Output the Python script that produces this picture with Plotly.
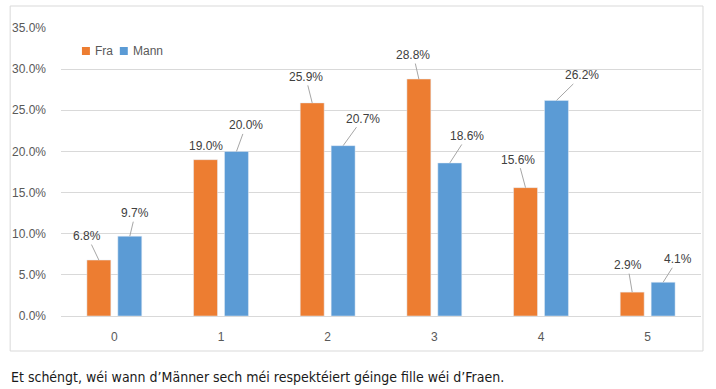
import plotly.graph_objects as go

categories = ["0", "1", "2", "3", "4", "5"]
fra = [6.8, 19.0, 25.9, 28.8, 15.6, 2.9]
mann = [9.7, 20.0, 20.7, 18.6, 26.2, 4.1]
fra_labels = ["6.8%", "19.0%", "25.9%", "28.8%", "15.6%", "2.9%"]
mann_labels = ["9.7%", "20.0%", "20.7%", "18.6%", "26.2%", "4.1%"]
y_ticks = [0, 5, 10, 15, 20, 25, 30, 35]
y_tick_text = ["0.0%", "5.0%", "10.0%", "15.0%", "20.0%", "25.0%", "30.0%", "35.0%"]
caption = "Et schéngt, wéi wann d\u2019Männer sech méi respektéiert géinge fille wéi d\u2019Fraen."

# label offsets (pixels) relative to bar tops
fra_off = [(-11.5, -24), (0.5, -14), (-6.5, -26), (-5.5, -24), (-7.5, -28), (-4.5, -27)]
mann_off = [(5.5, -23), (9.5, -26), (19.5, -27), (17.5, -27), (25.5, -25), (14.5, -23)]
fra_arrow = [True, False, True, True, True, True]
mann_arrow = [True, True, True, True, True, True]

ORANGE = "#ED7D31"
BLUE = "#5B9BD5"
GRID = "#d9d9d9"
TXT = "#404040"

W, H = 716, 389
L, R, T, B = 59, 15, 28, 73
PW, PH = W - L - R, H - T - B
BARGAP = 0.42


def px(x):
    return (x - L) / PW


def py(y):
    return (H - B - y) / PH


fig = go.Figure()
fig.add_trace(go.Bar(x=list(range(len(categories))), y=fra, name="Fra",
                     marker_color=ORANGE, showlegend=False))
fig.add_trace(go.Bar(x=list(range(len(categories))), y=mann, name="Mann",
                     marker_color=BLUE, showlegend=False))

off = (1 - BARGAP) / 4
ann = []
for i in range(len(categories)):
    for vals, labs, offs, arrows, sgn in ((fra, fra_labels, fra_off, fra_arrow, -1),
                                          (mann, mann_labels, mann_off, mann_arrow, 1)):
        ax, ay = offs[i]
        common = dict(x=i + sgn * off, y=vals[i], xref="x", yref="y", text=labs[i],
                      font=dict(family="Liberation Sans, Arial, sans-serif", size=12, color=TXT))
        if arrows[i]:
            ann.append(dict(**common, showarrow=True, ax=ax, ay=ay, arrowhead=0,
                            arrowwidth=1, arrowcolor="#a6a6a6", standoff=0))
        else:
            ann.append(dict(**common, showarrow=False, xshift=ax, yshift=-ay))

# custom legend
shapes = []
legend_items = [("Fra", ORANGE, 80), ("Mann", BLUE, 118)]
for name, col, x0 in legend_items:
    shapes.append(dict(type="rect", xref="paper", yref="paper",
                       x0=px(x0), x1=px(x0 + 8), y0=py(55), y1=py(47),
                       fillcolor=col, line=dict(width=0)))
    ann.append(dict(x=px(x0 + 11), y=py(51), xref="paper", yref="paper", text=name,
                    showarrow=False, xanchor="left", yanchor="middle",
                    font=dict(family="Liberation Sans, Arial, sans-serif", size=12, color="#595959")))

# border
shapes.append(dict(type="rect", xref="paper", yref="paper",
                   x0=px(8), x1=px(703), y0=py(351), y1=py(6),
                   line=dict(color=GRID, width=1), fillcolor="rgba(0,0,0,0)"))

ann.append(dict(x=px(7), y=py(377), xref="paper", yref="paper", text=caption,
                showarrow=False, xanchor="left", yanchor="middle",
                font=dict(family="Liberation Sans Narrow, DejaVu Sans Condensed, Arial Narrow, sans-serif",
                          size=14, color="#1a1a1a")))

fig.update_layout(
    width=W, height=H,
    margin=dict(l=L, r=R, t=T, b=B),
    paper_bgcolor="white", plot_bgcolor="white",
    barmode="group", bargap=BARGAP, bargroupgap=0.226,
    annotations=ann, shapes=shapes, showlegend=False,
    font=dict(family="Liberation Sans, Arial, sans-serif", size=12, color="#595959"),
)
fig.update_xaxes(tickmode="array", tickvals=list(range(len(categories))), ticktext=categories,
                 range=[-0.5, len(categories) - 0.5], showgrid=False, showline=True,
                 linecolor=GRID, linewidth=1, ticks="", ticklabelstandoff=10,
                 tickfont=dict(size=12, color="#595959"))
fig.update_yaxes(range=[0, 35], tickmode="array", tickvals=y_ticks, ticktext=y_tick_text,
                 showgrid=True, gridcolor=GRID, gridwidth=1, zeroline=False, showline=False,
                 ticks="", ticklabelstandoff=14, tickfont=dict(size=12, color="#595959"))

fig.write_html("out.html", config={"displayModeBar": False},
               post_script="document.body.style.margin='0px';")
